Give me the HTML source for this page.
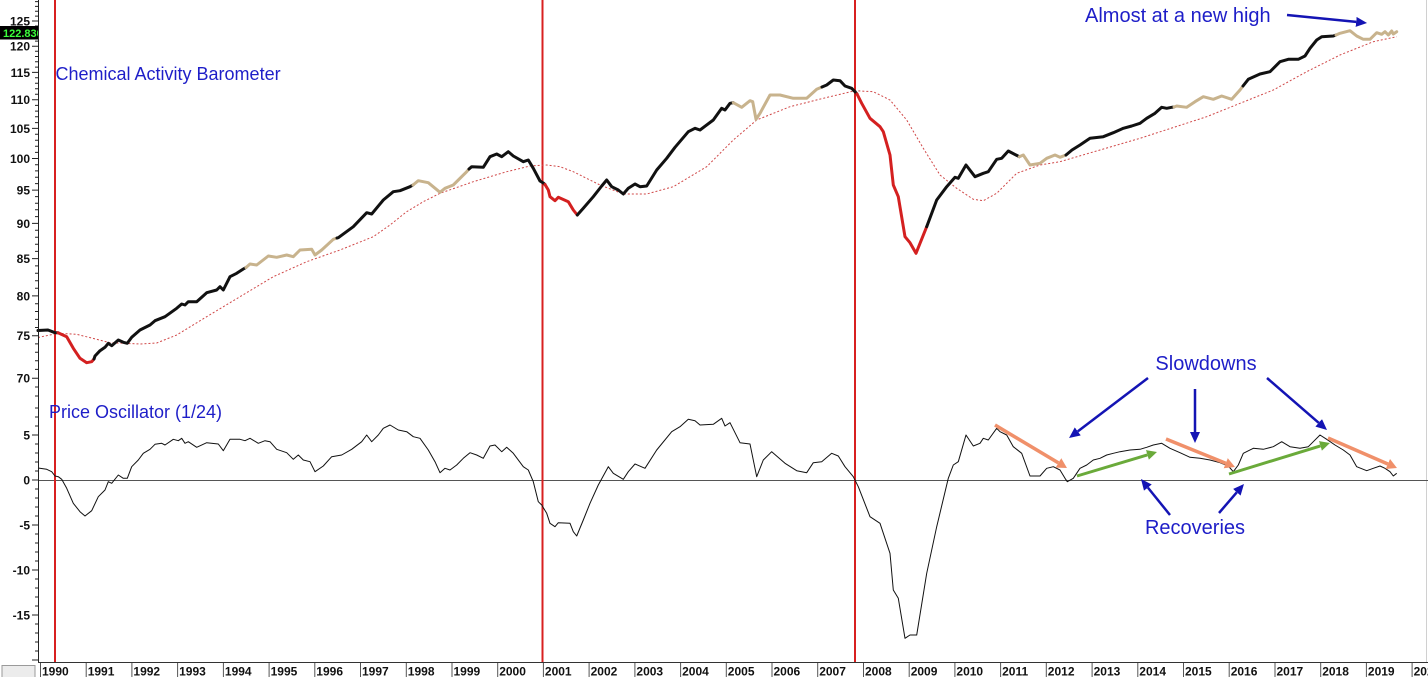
<!DOCTYPE html>
<html><head><meta charset="utf-8"><style>
html,body{margin:0;padding:0;background:#fff;}
body{width:1428px;height:677px;overflow:hidden;position:relative;font-family:"Liberation Sans",Arial,sans-serif;}
svg{position:absolute;left:0;top:0;}
.ax{font:bold 12px "Liberation Sans",Arial,sans-serif;fill:#111;}
.ann{font-family:"Liberation Sans",Arial,sans-serif;fill:#1e1ec8;}
</style></head><body>
<svg width="1428" height="677" viewBox="0 0 1428 677" xmlns="http://www.w3.org/2000/svg">
<defs>
<marker id="hb" markerWidth="11" markerHeight="10" refX="0" refY="5" orient="auto" markerUnits="userSpaceOnUse"><path d="M0,0 L11,5 L0,10 z" fill="#1414b4"/></marker>
<marker id="ho" markerWidth="10" markerHeight="11" refX="0" refY="5.5" orient="auto" markerUnits="userSpaceOnUse"><path d="M0,0 L10,5.5 L0,11 z" fill="#f0906a"/></marker>
<marker id="hg" markerWidth="10" markerHeight="10" refX="0" refY="5" orient="auto" markerUnits="userSpaceOnUse"><path d="M0,0 L10,5 L0,10 z" fill="#6aaa3a"/></marker>
</defs>

<line x1="1426.5" y1="0" x2="1426.5" y2="662" stroke="#d0d0d0" stroke-width="1"/>

<line x1="38" y1="480.5" x2="1428" y2="480.5" stroke="#555" stroke-width="1"/>

<line x1="55" y1="0" x2="55" y2="662" stroke="#d82020" stroke-width="2"/>
<line x1="542.5" y1="0" x2="542.5" y2="662" stroke="#d82020" stroke-width="2"/>
<line x1="855" y1="0" x2="855" y2="662" stroke="#d82020" stroke-width="2"/>

<polyline fill="none" stroke="#d04848" stroke-width="1" stroke-dasharray="2,2" points="38,337.5 58,333.3 76.7,334.3 96.7,339.3 110,342.7 140,344 156.7,343 176.7,335 206.7,316.7 240,296.7 273.3,276.7 306.7,261.7 340,250 373.3,236.7 390,225 406.7,211.7 423.3,201.7 440,193.3 473.3,181.7 506.7,171.7 530,166 546.7,165 560,166.7 573.3,171.7 600,185 623.3,194 646.7,194 673.3,186.7 706.7,166.7 733.3,140 756.7,120 790,106.7 823.3,98.3 855,90.7 873.3,91.7 890,100 906.7,120 923.3,148.3 940,175 956.7,188.3 973.3,199.3 983.3,200.7 996.7,193.3 1016.7,173.3 1040,165 1060,161.7 1100,150 1140,138.3 1206.7,116.7 1273.3,90 1306.7,71.7 1340,55 1373.3,41.7 1396.7,36.7"/>

<g fill="none" stroke-width="3" stroke-linejoin="round" stroke-linecap="round">
<polyline stroke="#111" points="38,330.5 48,330 55,332.7 58,332.7"/>
<polyline stroke="#d42020" points="58,332.7 66.7,336.7 73.3,348.3 80,358.3 86.7,362.7 91.7,361.7 94,359"/>
<polyline stroke="#111" points="94,359 95,356 100,350.7 105,347.3 108.3,343.3 111.7,345.7 118.3,340 123.3,342.3 127.3,343.3 131.7,337.3 140,330 150,325 155,320.7 165,316.7 176.7,308.3 181.7,304 185,305 188.3,301.7 196.7,301.7 206.7,292.7 216.7,290 220,286.7 223.3,290 230,276.7 236.7,273.3 243.3,269 246,267.5"/>
<polyline stroke="#c8b38d" points="246,267.5 250,264 256.7,265 268.3,256 276.7,257.3 286.7,255 293.3,256.7 300,250 311.7,249.3 315,255 321.7,250 333.3,239.3 337,238"/>
<polyline stroke="#111" points="337,238 338.3,237.7 353.3,226.7 366.7,212.7 371.7,214 383.3,200 393.3,191.7 400,190.7 410,186.7 413,185"/>
<polyline stroke="#c8b38d" points="413,185 418.3,180.7 428.3,182.7 440,192.3 445,188.3 453.3,185 466.7,171.7 469,169"/>
<polyline stroke="#111" points="469,169 471.7,166.7 483.3,167.3 490,156.7 496.7,154 501.7,156.7 508.3,151.7 513.3,156 523.3,161.7 528.3,160 533.3,168.3 540,181 543.3,183 545,184.5"/>
<polyline stroke="#d42020" points="545,184.5 548.3,190 550,196.7 555,200.7 558.3,197.3 568.3,201.7 573.3,210 577.3,215"/>
<polyline stroke="#111" points="577.3,215 583.3,208.3 593.3,196.7 601.7,186 606.7,180 611.7,186.7 618.3,190 623.3,194 628.3,188.3 635,184 640,186.7 646.7,186 656.7,170 666.7,158.3 675,147.3 688.3,131.7 695,128.3 700,130 713.3,120 721.7,108.3 725,110 730,103.3 733.3,102.7"/>
<polyline stroke="#c8b38d" points="733.3,102.7 741.7,107.3 750,100.7 752.7,101.7 756,119.3 760,113.3 770,95 780,95 793.3,98.3 806.7,98.3 816.7,89.3 822,87"/>
<polyline stroke="#111" points="822,87 826.7,85 833.3,80 840,80.7 845,86 851.7,88.3 855,91.7 857,94"/>
<polyline stroke="#d42020" points="857,94 861.7,103.3 870,118.3 880,126.7 883.3,131.7 890,155 893.3,185 898.3,196.7 905,236.7 910,242.7 916,253.3 926.7,226.7"/>
<polyline stroke="#111" points="926.7,226.7 936.7,200 946.7,186.7 955,177.3 958.3,178.3 966,165 975,176.7 983.3,173.3 988.3,171.7 996.7,159.3 1001.7,158.3 1008.3,151 1019.3,156.7"/>
<polyline stroke="#c8b38d" points="1019.3,156.7 1023.3,155 1030,165 1040,163.3 1046.7,158.3 1055,155 1060,157.3 1066,155"/>
<polyline stroke="#111" points="1066,155 1072,150 1080,145 1090,138.3 1103.3,136.7 1113.3,132.7 1123.3,128.3 1131.7,126 1140,123.3 1146.7,118.3 1155,113.3 1161.7,107.3 1166.7,108.3 1171.7,107.3 1174,107"/>
<polyline stroke="#c8b38d" points="1174,107 1176.7,106 1186.7,107.3 1195,101.7 1203.3,96.7 1213.3,99.3 1221.7,96 1231.7,99.3 1240,90 1243,86"/>
<polyline stroke="#111" points="1243,86 1248.3,79.3 1260,74 1270,71.7 1280,61.7 1288.3,59.3 1298.3,59.3 1305,56 1310,48.3 1316.7,40 1321.7,36.7 1333.3,36 1336,35"/>
<polyline stroke="#c8b38d" points="1336,35 1340,33.3 1350,30.7 1356.7,36 1363.3,39.3 1370,39.3 1376.7,32.7 1381.7,34.3 1385,31.7 1388.3,35 1391.7,31 1393.3,34 1396.7,31.7"/>
</g>

<polyline fill="none" stroke="#111" stroke-width="1" stroke-linejoin="round" points="38,468 46.7,469.3 51.7,471.7 55,476 58.3,476.7 61.7,479.3 66.7,488.3 73.3,503.3 80,511.7 85,516 91.7,510.7 98.3,496.7 105,490 108.3,481.7 111.7,483.3 118.3,475 123.3,478.3 127.3,478.3 131.7,466.7 138.3,460 143.3,453.3 150,449.3 155,444.3 161.7,443.3 165,445 173.3,439.3 178.3,440.7 181.7,438.3 185,443.3 188.3,441.7 196.7,447.3 206.7,442.7 218.3,444 223.3,450.7 230,439.3 240,439.3 245,440.7 250,438.3 258.3,443.3 265,440.7 270,441.7 276.7,449.3 286.7,452.7 293.3,459.3 298.3,455 303.3,460 310,461.7 315,471.7 323.3,466 331.7,456.7 341.7,455 351.7,449.3 361.7,441.7 366.7,435 371.7,441.7 378.3,435 383.3,428.3 390,425 398.3,430 406.7,431.7 413.3,436.7 420,438.3 428.3,450 435,461.7 440,472.7 445,468.3 450,470 456.7,465 463.3,458.3 470,452.7 476.7,455 483.3,458.3 490,446 495,445 501.7,451.7 506.7,447.3 513.3,453.3 523.3,466.7 528.3,470 533.3,481.7 538.3,501.7 541.7,505 546.7,513.3 550,523.3 555,526.7 558.3,522.7 570,523.3 573.3,531.7 576.7,536 583.3,520 590,503.3 598.3,485 608.3,466.7 613.3,473.3 623.3,479.3 628.3,471.7 635,464 645,468.3 656.7,450 671.7,431.7 680,426.7 688.3,419.3 695,420.7 700,425 713.3,424.3 721.7,418.3 725,426 730,422.7 740,442.7 750,444 756.7,476.7 763.3,460 771.7,451.7 785,463.3 796.7,470.7 806.7,472.7 813.3,462.7 821.7,461.7 831.7,453.3 838.3,456 845,466.7 853.3,476.7 858.3,486.7 870,516.7 880,523.3 890,553.3 893.3,590 898.3,598.3 905,638.3 910,635 916.7,635 926.7,573.3 936.7,526.7 948.3,478.3 953.3,465 958.3,461.7 966,435 973.3,446 980,443.3 983.3,438.3 988.3,440 996.7,428.3 1000,431.7 1006.7,435 1013.3,446.7 1021.7,453.3 1030,476 1040,476 1046.7,468.3 1053.3,466.7 1060,470 1065,478.3 1067.3,481.7 1073.3,478.3 1080,468.3 1086.7,465 1093.3,460 1100,458.3 1106.7,455 1113.3,453.3 1120,451.7 1130,450 1140,449.3 1146.7,447.3 1153.3,445 1161.7,443.3 1170,448.3 1180,452.7 1190,457.3 1200,458.3 1210,460 1220,462.7 1228.3,466 1233.3,471.7 1238.3,465 1243.3,453.3 1253.3,448.3 1263.3,449.3 1273.3,446.7 1281.7,441.7 1290,446.7 1300,448.3 1308.3,446.7 1313.3,441.7 1320,435 1326.7,439.3 1335,445 1343.3,450 1350,455 1356.7,466.7 1366.7,470.7 1373.3,468.3 1380,466 1385,468.3 1390,471.7 1393.3,476 1396.7,473.3"/>

<g stroke-linecap="butt">
<line x1="995" y1="425" x2="1058.4" y2="462.9" stroke="#f0906a" stroke-width="3.5" marker-end="url(#ho)"/>
<line x1="1166" y1="439" x2="1225.7" y2="463.2" stroke="#f0906a" stroke-width="3.5" marker-end="url(#ho)"/>
<line x1="1328" y1="438" x2="1387.8" y2="464" stroke="#f0906a" stroke-width="3.5" marker-end="url(#ho)"/>
<line x1="1077" y1="476" x2="1147.4" y2="454.9" stroke="#6aaa3a" stroke-width="3" marker-end="url(#hg)"/>
<line x1="1229" y1="474" x2="1320.4" y2="445.9" stroke="#6aaa3a" stroke-width="3" marker-end="url(#hg)"/>
<line x1="1148" y1="378" x2="1077.8" y2="431.4" stroke="#1414b4" stroke-width="2.5" marker-end="url(#hb)"/>
<line x1="1195" y1="389" x2="1195" y2="432" stroke="#1414b4" stroke-width="2.5" marker-end="url(#hb)"/>
<line x1="1267" y1="378" x2="1318.7" y2="422.8" stroke="#1414b4" stroke-width="2.5" marker-end="url(#hb)"/>
<line x1="1170" y1="515" x2="1147.9" y2="487.6" stroke="#1414b4" stroke-width="2.5" marker-end="url(#hb)"/>
<line x1="1219" y1="513" x2="1236.8" y2="492.3" stroke="#1414b4" stroke-width="2.5" marker-end="url(#hb)"/>
<line x1="1287" y1="15" x2="1356.1" y2="21.9" stroke="#1414b4" stroke-width="2.5" marker-end="url(#hb)"/>
</g>

<text class="ann" x="55.5" y="80" font-size="18">Chemical Activity Barometer</text>
<text class="ann" x="49" y="418" font-size="18">Price Oscillator (1/24)</text>
<text class="ann" x="1085" y="22" font-size="20">Almost at a new high</text>
<text class="ann" x="1206" y="370" font-size="20" text-anchor="middle">Slowdowns</text>
<text class="ann" x="1195" y="534" font-size="20" text-anchor="middle">Recoveries</text>

<line x1="38.5" y1="0" x2="38.5" y2="662" stroke="#222" stroke-width="1"/>
<path stroke="#222" stroke-width="1" fill="none" d="
M35,1.6h3 M35,6.4h3 M35,11.3h3 M35,16.1h3 M32,21h6 M35,26h3 M35,31h3 M35,36h3 M35,41.1h3 M32,46.2h6
M35,51.3h3 M35,56.5h3 M35,61.8h3 M35,67.1h3 M32,72.4h6 M35,77.8h3 M35,83.2h3 M35,88.7h3 M35,94.2h3 M32,99.8h6
M35,105.4h3 M35,111.1h3 M35,116.8h3 M35,122.6h3 M32,128.4h6 M35,134.3h3 M35,140.3h3 M35,146.3h3 M35,152.4h3 M32,158.5h6
M35,164.7h3 M35,170.9h3 M35,177.2h3 M35,183.6h3 M32,190.1h6 M35,196.6h3 M35,203.2h3 M35,209.8h3 M35,216.6h3 M32,223.4h6
M35,230.2h3 M35,237.2h3 M35,244.2h3 M35,251.4h3 M32,258.6h6 M35,265.9h3 M35,273.2h3 M35,280.7h3 M35,288.3h3 M32,295.9h6
M35,303.7h3 M35,311.5h3 M35,319.4h3 M35,327.5h3 M32,335.7h6 M35,343.9h3 M35,352.3h3 M35,360.8h3 M35,369.4h3 M32,378.2h6
M35,387h3 M35,396h3
M35,408h3 M35,417h3 M35,426h3 M32,435h6 M35,444h3 M35,453h3 M35,462h3 M35,471h3 M32,480h6
M35,489h3 M35,498h3 M35,507h3 M35,516h3 M32,525h6 M35,534h3 M35,543h3 M35,552h3 M35,561h3 M32,570h6
M35,579h3 M35,588h3 M35,597h3 M35,606h3 M32,615h6 M35,624h3 M35,633h3 M35,642h3 M35,651h3 M32,660h6"/>
<g class="ax" text-anchor="end">
<text x="30" y="25.5">125</text>
<text x="30" y="50.5">120</text>
<text x="30" y="76.8">115</text>
<text x="30" y="104.2">110</text>
<text x="30" y="132.8">105</text>
<text x="30" y="162.9">100</text>
<text x="30" y="194.5">95</text>
<text x="30" y="227.8">90</text>
<text x="30" y="263">85</text>
<text x="30" y="300.3">80</text>
<text x="30" y="340.1">75</text>
<text x="30" y="382.6">70</text>
<text x="30" y="439.4">5</text>
<text x="30" y="484.4">0</text>
<text x="30" y="529.4">-5</text>
<text x="30" y="574.4">-10</text>
<text x="30" y="619.4">-15</text>
</g>

<rect x="0" y="26" width="38" height="13.5" fill="#000"/>
<svg x="0" y="26" width="38" height="14" overflow="hidden">
<text x="3" y="11" font-family="Liberation Sans, Arial, sans-serif" font-weight="bold" font-size="11" fill="#3cff3c">122.830</text>
</svg>

<line x1="38" y1="662.5" x2="1428" y2="662.5" stroke="#333" stroke-width="1"/>
<rect x="2" y="665.5" width="33" height="12" fill="#ececec" stroke="#9a9a9a" stroke-width="1"/>
<g stroke="#555" stroke-width="1">
<line x1="40.5" y1="663" x2="40.5" y2="677"/><line x1="86.2" y1="663" x2="86.2" y2="677"/><line x1="131.9" y1="663" x2="131.9" y2="677"/><line x1="177.6" y1="663" x2="177.6" y2="677"/><line x1="223.4" y1="663" x2="223.4" y2="677"/><line x1="269.1" y1="663" x2="269.1" y2="677"/><line x1="314.8" y1="663" x2="314.8" y2="677"/><line x1="360.5" y1="663" x2="360.5" y2="677"/><line x1="406.3" y1="663" x2="406.3" y2="677"/><line x1="452" y1="663" x2="452" y2="677"/><line x1="497.7" y1="663" x2="497.7" y2="677"/><line x1="543.4" y1="663" x2="543.4" y2="677"/><line x1="589.1" y1="663" x2="589.1" y2="677"/><line x1="634.9" y1="663" x2="634.9" y2="677"/><line x1="680.6" y1="663" x2="680.6" y2="677"/><line x1="726.3" y1="663" x2="726.3" y2="677"/><line x1="772" y1="663" x2="772" y2="677"/><line x1="817.7" y1="663" x2="817.7" y2="677"/><line x1="863.5" y1="663" x2="863.5" y2="677"/><line x1="909.2" y1="663" x2="909.2" y2="677"/><line x1="954.9" y1="663" x2="954.9" y2="677"/><line x1="1000.6" y1="663" x2="1000.6" y2="677"/><line x1="1046.3" y1="663" x2="1046.3" y2="677"/><line x1="1092.1" y1="663" x2="1092.1" y2="677"/><line x1="1137.8" y1="663" x2="1137.8" y2="677"/><line x1="1183.5" y1="663" x2="1183.5" y2="677"/><line x1="1229.2" y1="663" x2="1229.2" y2="677"/><line x1="1275" y1="663" x2="1275" y2="677"/><line x1="1320.7" y1="663" x2="1320.7" y2="677"/><line x1="1366.4" y1="663" x2="1366.4" y2="677"/><line x1="1412.1" y1="663" x2="1412.1" y2="677"/>
</g>
<g class="ax">
<text x="42" y="675.5">1990</text><text x="87.7" y="675.5">1991</text><text x="133.4" y="675.5">1992</text><text x="179.1" y="675.5">1993</text><text x="224.9" y="675.5">1994</text><text x="270.6" y="675.5">1995</text><text x="316.3" y="675.5">1996</text><text x="362" y="675.5">1997</text><text x="407.8" y="675.5">1998</text><text x="453.5" y="675.5">1999</text><text x="499.2" y="675.5">2000</text><text x="544.9" y="675.5">2001</text><text x="590.6" y="675.5">2002</text><text x="636.4" y="675.5">2003</text><text x="682.1" y="675.5">2004</text><text x="727.8" y="675.5">2005</text><text x="773.5" y="675.5">2006</text><text x="819.2" y="675.5">2007</text><text x="865" y="675.5">2008</text><text x="910.7" y="675.5">2009</text><text x="956.4" y="675.5">2010</text><text x="1002.1" y="675.5">2011</text><text x="1047.8" y="675.5">2012</text><text x="1093.6" y="675.5">2013</text><text x="1139.3" y="675.5">2014</text><text x="1185" y="675.5">2015</text><text x="1230.7" y="675.5">2016</text><text x="1276.5" y="675.5">2017</text><text x="1322.2" y="675.5">2018</text><text x="1367.9" y="675.5">2019</text><text x="1413.6" y="675.5">2020</text>
</g>
</svg>
</body></html>
